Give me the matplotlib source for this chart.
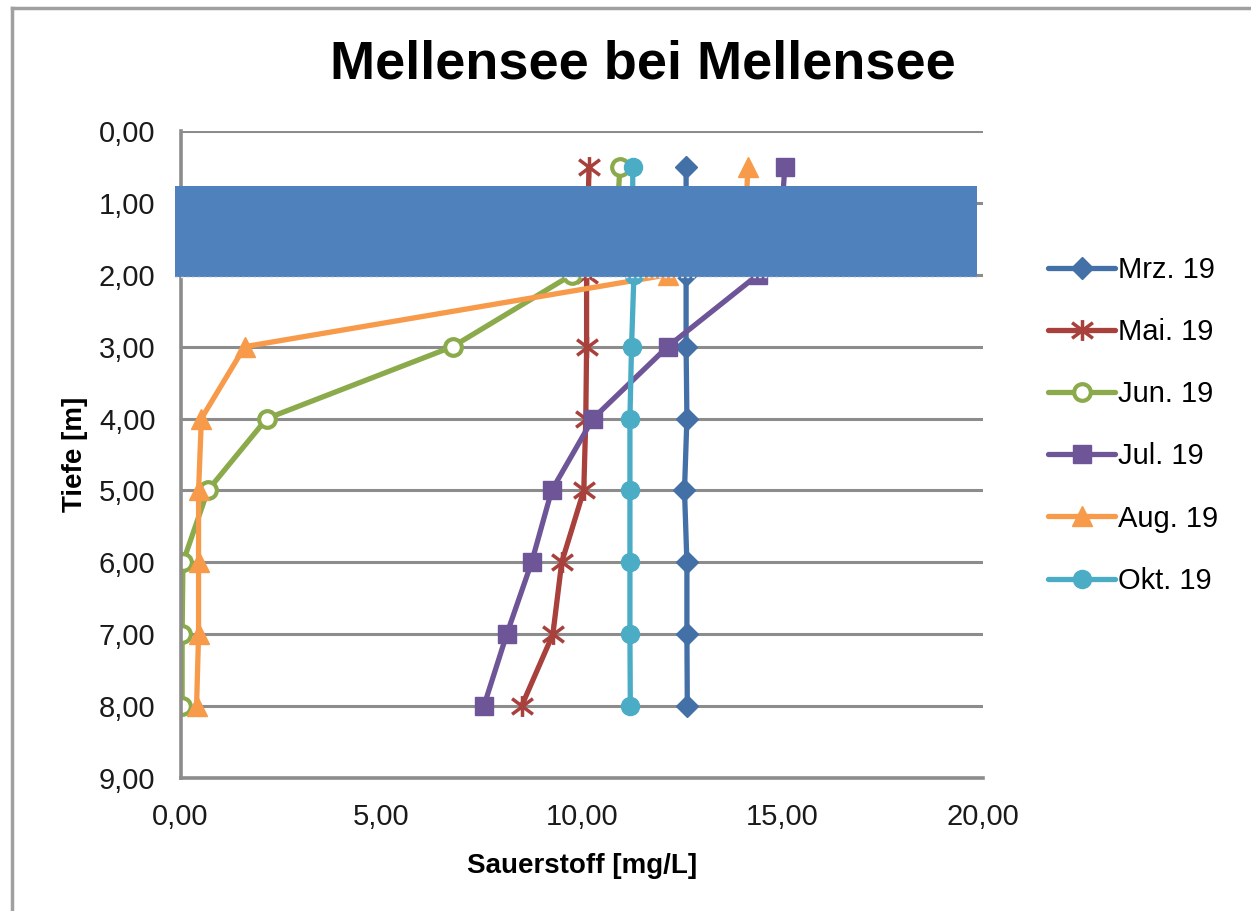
import matplotlib
matplotlib.use("Agg")
import matplotlib.pyplot as plt
from matplotlib.lines import Line2D
from matplotlib.patches import Rectangle
from matplotlib.path import Path
from matplotlib.ticker import FuncFormatter

plt.rcParams['font.family'] = ['Liberation Sans', 'DejaVu Sans']

# Tiefe [m] (1 m values sit under the blue box, read from the vertical stubs)
depth = [0.5, 1, 2, 3, 4, 5, 6, 7, 8]

# Sauerstoff [mg/L] per month
mrz = [12.6, 12.6, 12.6, 12.6, 12.62, 12.56, 12.62, 12.62, 12.63]
mai = [10.18, 10.16, 10.12, 10.12, 10.1, 10.05, 9.5, 9.28, 8.5]
jun = [10.95, 10.9, 9.75, 6.78, 2.15, 0.68, 0.06, 0.04, 0.04]
jul = [15.06, 15.0, 14.39, 12.14, 10.28, 9.25, 8.75, 8.13, 7.56]
aug = [14.14, 14.1, 12.15, 1.6, 0.52, 0.45, 0.45, 0.45, 0.4]
okt = [11.27, 11.27, 11.3, 11.24, 11.2, 11.2, 11.2, 11.2, 11.21]

labels = ["Mrz. 19", "Mai. 19", "Jun. 19", "Jul. 19", "Aug. 19", "Okt. 19"]
series = [mrz, mai, jun, jul, aug, okt]

# Excel style asterisk: vertical bar plus an X
star = Path([(0, -1), (0, 1), (-1, -0.75), (1, 0.75), (-1, 0.75), (1, -0.75)],
            [Path.MOVETO, Path.LINETO, Path.MOVETO, Path.LINETO, Path.MOVETO, Path.LINETO])

styles = [
    dict(color='#4470A8', marker='D', ms=11, mfc='#4470A8', mec='#4470A8'),
    dict(color='#A8403C', marker=star, ms=15, mfc='none', mec='#A8403C', mew=2.5),
    dict(color='#8BAA4B', marker='o', ms=12, mfc='white', mec='#8BAA4B', mew=3),
    dict(color='#6E5597', marker='s', ms=13, mfc='#6E5597', mec='#6E5597'),
    dict(color='#F79A4A', marker='^', ms=15, mfc='#F79A4A', mec='#F79A4A'),
    dict(color='#4BACC6', marker='o', ms=13, mfc='#4BACC6', mec='#4BACC6'),
]

fig = plt.figure(figsize=(12.51, 9.11), dpi=100)
ax = fig.add_axes([0.1443, 0.1460, 0.6415, 0.7102])

for vals, lab, st in zip(series, labels, styles):
    ax.plot(vals, depth, lw=3.8, label=lab, solid_capstyle='round', **st)

ax.set_xlim(0, 20)
ax.set_ylim(9, 0)
ax.set_xticks([0, 5, 10, 15, 20])
ax.set_yticks(range(0, 10))
fmt = FuncFormatter(lambda v, p: f"{v:.2f}".replace('.', ','))
ax.xaxis.set_major_formatter(fmt)
ax.yaxis.set_major_formatter(fmt)
ax.tick_params(axis='both', length=0, labelsize=21, colors='#1a1a1a')
ax.tick_params(axis='y', pad=18)
ax.tick_params(axis='x', pad=18)

ax.grid(axis='y', color='#8c8c8c', lw=2.2)
ax.set_axisbelow(True)
for s in ['top', 'right']:
    ax.spines[s].set_visible(False)
for s in ['left', 'bottom']:
    ax.spines[s].set_color('#8c8c8c')
    ax.spines[s].set_linewidth(2.6)

ax.set_xlabel("Sauerstoff [mg/L]", fontsize=20, fontweight='bold', labelpad=16)
ax.set_ylabel("Tiefe [m]", fontsize=20, fontweight='bold', labelpad=8)

# blue box covering the upper layer
ax.add_patch(Rectangle((-0.15, 0.76), 20.0, 1.27, facecolor='#4F81BD', edgecolor='none',
                       zorder=10, clip_on=False))
ax.plot([-0.15, 19.85], [2.03, 2.03], color='#e8e8e8', lw=1, ls=(0, (2, 2)), zorder=11, clip_on=False)

fig.text(0.514, 0.9287, "Mellensee bei Mellensee", fontsize=39, fontweight='bold',
         ha='center', va='center')

leg = ax.legend(loc='center left', bbox_to_anchor=(0.8377, 0.533), bbox_transform=fig.transFigure,
                frameon=False, fontsize=21, handlelength=2.3, handletextpad=0.1,
                labelspacing=1.17, borderpad=0, borderaxespad=0)

# outer chart border (top and left visible)
fig.add_artist(Line2D([12 / 1251, 12 / 1251], [0, 1 - 8 / 911], transform=fig.transFigure,
                      color='#a0a0a0', lw=2.5))
fig.add_artist(Line2D([12 / 1251, 1], [1 - 8 / 911, 1 - 8 / 911], transform=fig.transFigure,
                      color='#a0a0a0', lw=2.5))

fig.savefig("out.png", dpi=100)
